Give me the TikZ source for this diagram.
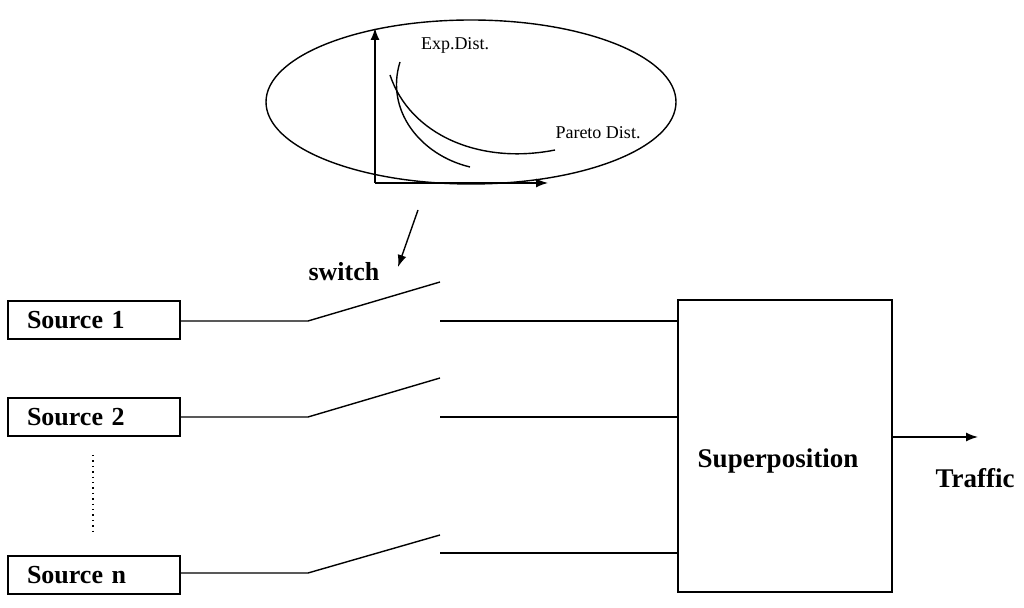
\documentclass[tikz,border=0pt]{standalone}
\usepackage{fontspec}
\setmainfont{Liberation Serif}
\usetikzlibrary{arrows.meta,shapes.geometric}
\begin{document}
\begin{tikzpicture}[x=0.5pt,y=-0.5pt,
  box/.style={draw,line width=0.8pt,minimum width=86pt,minimum height=19pt,text width=67pt,inner xsep=9.5pt,inner ysep=0,align=left,font=\fontsize{13}{15}\selectfont\bfseries},
  ln/.style={line width=0.7pt},
  arr/.style={line width=0.7pt,-{Latex[length=6pt,width=4.5pt]}},
  lbl/.style={font=\fontsize{13.5}{16}\selectfont\bfseries}]
\useasboundingbox (0,0) rectangle (1024,608);
\node[draw,ellipse,line width=0.7pt,minimum width=205pt,minimum height=82pt,inner sep=0] (ell) at (471,102) {};
\coordinate (o) at (375,183);
\coordinate (ya) at (375,28);
\coordinate (xa) at (548,183);
\draw[arr] (o) -- (ya);
\draw[arr] (o) -- (xa);
\draw[ln] (400,62) .. controls (385,110) and (420,155) .. (470,167);
\draw[ln] (390,75) .. controls (410,135) and (480,165) .. (555,150);
\node[font=\fontsize{9}{10}\selectfont] (exp) at (455,45) {Exp.Dist.};
\node[font=\fontsize{9}{10}\selectfont] (par) at (598,133) {Pareto Dist.};
\coordinate (a1) at (418,210);
\coordinate (a2) at (398,267);
\draw[arr] (a1) -- (a2);
\node[font=\fontsize{13}{15}\selectfont\bfseries] (sw) at (344,272) {switch};
\node[box] (s1) at (94,320) {Source 1};
\node[box] (s2) at (94,417) {Source 2};
\node[box] (sn) at (94,575) {Source n};
\draw[ln,dotted,line width=1pt] (93,455) -- (93,533);
\node[draw,line width=0.8pt,minimum width=107pt,minimum height=146pt,inner sep=0] (sup) at (785,446) {};
\node[lbl] (suplab) at (778,461) {Superposition};
\coordinate (p1) at (308,321); \coordinate (q1) at (440,282); \coordinate (r1) at (440,321);
\coordinate (p2) at (308,417); \coordinate (q2) at (440,378); \coordinate (r2) at (440,417);
\coordinate (p3) at (308,573); \coordinate (q3) at (440,535); \coordinate (r3) at (440,553);
\draw[ln] (s1.east |- p1) -- (p1) -- (q1);
\draw[ln] (r1) -- (r1 -| sup.west);
\draw[ln] (s2.east |- p2) -- (p2) -- (q2);
\draw[ln] (r2) -- (r2 -| sup.west);
\draw[ln] (sn.east |- p3) -- (p3) -- (q3);
\draw[ln] (r3) -- (r3 -| sup.west);
\coordinate (t) at (978,437);
\draw[arr] (sup.east |- t) -- (t);
\node[lbl] (tr) at (975,478) {Traffic};
\end{tikzpicture}
\end{document}
